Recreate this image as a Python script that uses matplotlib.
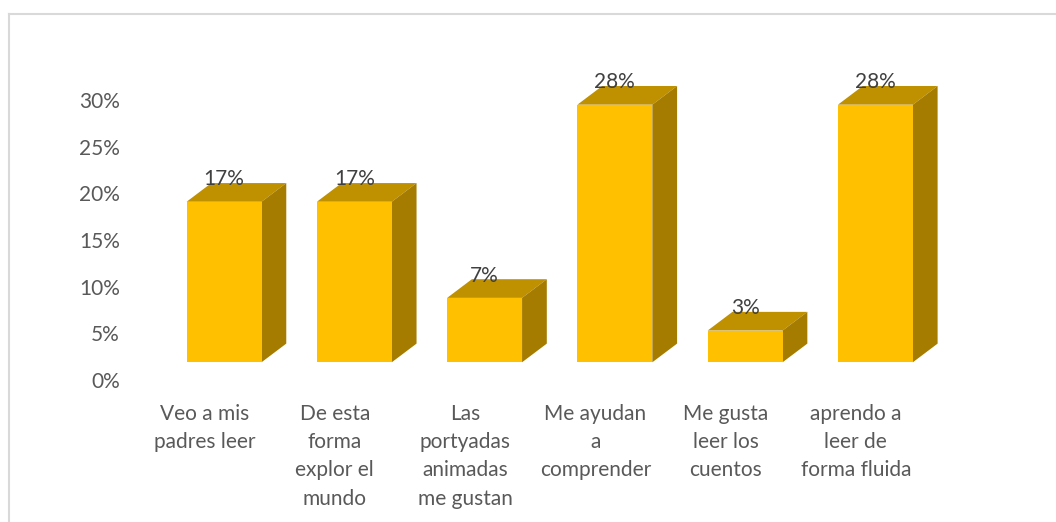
import matplotlib.pyplot as plt
from matplotlib.patches import Polygon
from matplotlib.lines import Line2D

plt.rcParams['font.family'] = ['Lato', 'DejaVu Sans']

# Data (percent)
categories = ['Veo a mis\npadres leer',
              'De esta\nforma\nexplor el\nmundo',
              'Las\nportyadas\nanimadas\nme gustan',
              'Me ayudan\na\ncomprender',
              'Me gusta\nleer los\ncuentos',
              'aprendo a\nleer de\nforma fluida']
values = [17.2, 17.2, 6.9, 27.6, 3.4, 27.6]
yticks = [0, 5, 10, 15, 20, 25, 30]

# 3D look of the Excel bars
front_clr = '#FFC000'
top_clr = '#BF9000'
side_clr = '#A67C00'
width = 0.575      # front face width (category units)
shift = 0.15       # front face centre offset from category centre
base = 1.9         # floor of the front face
dx = 0.19          # depth, x
dy = 2.0           # depth, y

fig = plt.figure(figsize=(10.56, 5.22), dpi=100)
ax = fig.add_axes([139.4 / 1056, 142 / 522, (921 - 139.4) / 1056, 280 / 522])

xs = [i + shift for i in range(len(values))]
ax.bar(xs, values, width=width, bottom=base, color=front_clr, linewidth=0,
       zorder=3, clip_on=False)

for x, v in zip(xs, values):
    x0 = x - width / 2
    x1 = x + width / 2
    y1 = base + v
    top = Polygon([(x0, y1), (x1, y1), (x1 + dx, y1 + dy), (x0 + dx, y1 + dy)],
                  closed=True, facecolor=top_clr, edgecolor='none', zorder=2, clip_on=False)
    side = Polygon([(x1, base), (x1 + dx, base + dy), (x1 + dx, y1 + dy), (x1, y1)],
                   closed=True, facecolor=side_clr, edgecolor='none', zorder=2, clip_on=False)
    ax.add_patch(top)
    ax.add_patch(side)
    ax.text(x, y1 + dy - 0.25, '%d%%' % round(v), ha='center', va='baseline',
            fontsize=15, color='#404040', zorder=4, clip_on=False)

ax.set_xlim(-0.5, len(values) - 0.5)
ax.set_ylim(0, 30)
ax.set_yticks(yticks)
ax.set_yticklabels(['%d%%' % t for t in yticks])
ax.set_xticks(range(len(categories)))
ax.set_xticklabels(categories, linespacing=1.52)

ax.tick_params(axis='both', length=0, labelsize=15, labelcolor='#595959')
ax.tick_params(axis='y', pad=14)
ax.tick_params(axis='x', pad=17)
for s in ax.spines.values():
    s.set_visible(False)

# chart frame (only top and left edges are in view)
fig.add_artist(Line2D([9 / 1056, 9 / 1056], [0, 1 - 14 / 522], color='#D9D9D9', lw=1.5))
fig.add_artist(Line2D([9 / 1056, 1], [1 - 14 / 522, 1 - 14 / 522], color='#D9D9D9', lw=1.5))

fig.savefig('out.png', dpi=100)
